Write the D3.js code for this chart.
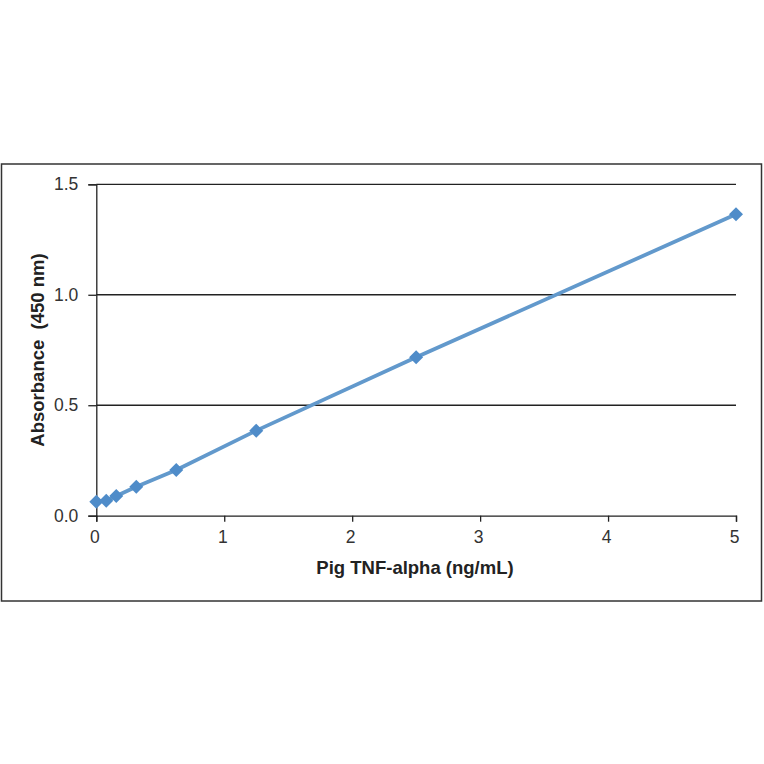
<!DOCTYPE html>
<html><head><meta charset="utf-8">
<script src="https://cdn.jsdelivr.net/npm/d3@7"></script>
<style>body{margin:0;background:#fff}svg{display:block}</style>
</head><body><div id="c"></div>
<script>
const concentrations = [0, 0.078, 0.156, 0.3125, 0.625, 1.25, 2.5, 5];
const absorbance = [0.063, 0.068, 0.089, 0.131, 0.207, 0.385, 0.717, 1.364];
const xTicks = [0, 1, 2, 3, 4, 5];
const yTicks = [0, 0.5, 1.0, 1.5];
const xTitle = "Pig TNF-alpha (ng/mL)";
const yTitle = "Absorbance\u00a0\u00a0(450 nm)";

const W = 764, H = 764;
const svg = d3.select("#c").append("svg").attr("width", W).attr("height", H);
svg.append("rect").attr("x", 1.5).attr("y", 164).attr("width", 760).attr("height", 437)
  .attr("fill", "#fff").attr("stroke", "#333").attr("stroke-width", 1.5);

const x = d3.scaleLinear().domain([0, 5]).range([96.3, 736]);
const y = d3.scaleLinear().domain([0, 1.5]).range([515.7, 184.3]);
const font = "'Liberation Sans', Arial, sans-serif";

// gridlines
svg.append("g").selectAll("line").data(yTicks.filter(d => d > 0)).join("line")
  .attr("x1", x(0)).attr("x2", x(5)).attr("y1", d => y(d)).attr("y2", d => y(d))
  .attr("stroke", "#222").attr("stroke-width", 1.3);

// y axis
const yAxis = svg.append("g").attr("transform", `translate(${x(0)},0)`)
  .call(d3.axisLeft(y).tickValues(yTicks).tickFormat(d3.format(".1f")).tickSize(8).tickPadding(10));
// x axis
const xAxis = svg.append("g").attr("transform", `translate(0,${y(0)})`)
  .call(d3.axisBottom(x).tickValues(xTicks).tickFormat(d3.format("d")).tickSize(6).tickPadding(9));
[yAxis, xAxis].forEach(a => {
  a.select(".domain").attr("stroke", "#222").attr("stroke-width", 1.3);
  a.selectAll(".tick line").attr("stroke", "#222").attr("stroke-width", 1.3);
  a.selectAll("text").attr("font-family", font).attr("font-size", 17.5).attr("fill", "#333");
});
xAxis.selectAll("text").attr("dx", -2);

const pts = concentrations.map((c, i) => [c, absorbance[i]]);
svg.append("path").datum(pts)
  .attr("d", d3.line().x(d => x(d[0])).y(d => y(d[1])))
  .attr("fill", "none").attr("stroke", "#6299cc").attr("stroke-width", 3.8)
  .attr("stroke-linejoin", "round");
svg.append("g").selectAll("path").data(pts).join("path")
  .attr("transform", d => `translate(${x(d[0])},${y(d[1])})`)
  .attr("d", "M0,-7L7,0L0,7L-7,0Z")
  .attr("fill", "#4f8cc9");

svg.append("text").attr("x", 415).attr("y", 574).attr("text-anchor", "middle")
  .attr("font-family", font).attr("font-weight", "bold").attr("font-size", 18.5).attr("fill", "#222")
  .text(xTitle);
svg.append("text").attr("transform", "translate(44,350) rotate(-90)").attr("text-anchor", "middle")
  .attr("font-family", font).attr("font-weight", "bold").attr("font-size", 18.5).attr("fill", "#222")
  .text(yTitle);
</script></body></html>
